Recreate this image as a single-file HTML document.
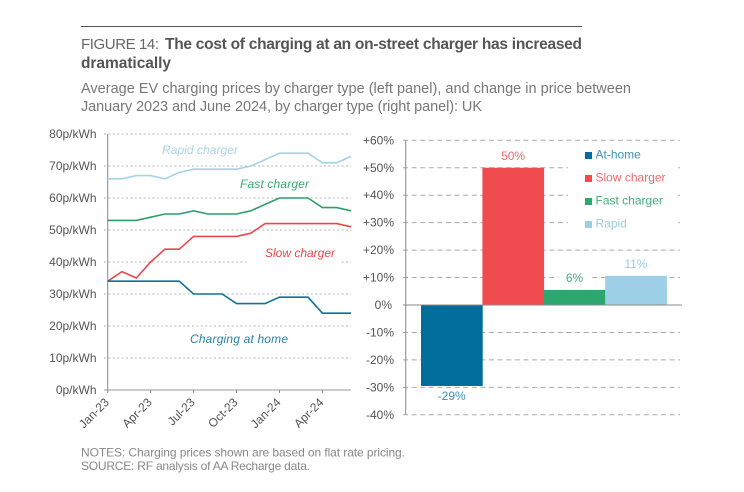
<!DOCTYPE html>
<html lang="en">
<head>
<meta charset="utf-8">
<title>The cost of charging at an on-street charger</title>
<style>
html,body{margin:0;padding:0;background:#fff;width:744px;height:492px;overflow:hidden}
svg{display:block;font-family:"Liberation Sans",sans-serif}
</style>
</head>
<body>
<svg id="fig" width="744" height="492" viewBox="0 0 744 492" xmlns="http://www.w3.org/2000/svg">
  <rect width="744" height="492" fill="#fff"/>
  <line x1="81" x2="582" y1="26.5" y2="26.5" stroke="#555" stroke-width="1"/>
  <text x="81" y="49" font-size="15" fill="#666" textLength="78" lengthAdjust="spacing">FIGURE 14:</text>
  <text x="165" y="49" font-size="15.5" font-weight="bold" fill="#555" textLength="417" lengthAdjust="spacing">The cost of charging at an on-street charger has increased</text>
  <text x="81" y="68" font-size="15.5" font-weight="bold" fill="#555" textLength="90" lengthAdjust="spacing">dramatically</text>
  <text x="81" y="93" font-size="14.5" fill="#777" textLength="550" lengthAdjust="spacing">Average EV charging prices by charger type (left panel), and change in price between</text>
  <text x="81" y="111" font-size="14.5" fill="#777" textLength="401" lengthAdjust="spacing">January 2023 and June 2024, by charger type (right panel): UK</text>

  <g id="left"></g>
  <g id="right"></g>

  <text x="81" y="456.5" font-size="12" fill="#888" textLength="324" lengthAdjust="spacing">NOTES: Charging prices shown are based on flat rate pricing.</text>
  <text x="81" y="470" font-size="12" fill="#888" textLength="229" lengthAdjust="spacing">SOURCE: RF analysis of AA Recharge data.</text>
</svg>
<script>
const months = ['Jan-23','Apr-23','Jul-23','Oct-23','Jan-24','Apr-24'];
const monthCount = 18;
const priceTicks = [0,10,20,30,40,50,60,70,80];
const rapidPrices = [66,66,67,67,66,68,69,69,69,69,70,72,74,74,74,71,71,73];
const fastPrices = [53,53,53,54,55,55,56,55,55,55,56,58,60,60,60,57,57,56];
const slowPrices = [34,37,35,40,44,44,48,48,48,48,49,52,52,52,52,52,52,51];
const homePrices = [34,34,34,34,34,34,30,30,30,27,27,27,29,29,29,24,24,24];
const changeCategories = ['At-home','Slow charger','Fast charger','Rapid'];
const changeValues = [-29.5,50,5.5,10.6];
const changeLabels = ['-29%','50%','6%','11%'];
const changeTicks = [-40,-30,-20,-10,0,10,20,30,40,50,60];

const NS = 'http://www.w3.org/2000/svg';
function mk(parent, tag, attrs, text){
  const el = document.createElementNS(NS, tag);
  for(const k in attrs){ el.setAttribute(k, attrs[k]); }
  if(text !== undefined){ el.textContent = text; }
  parent.appendChild(el);
  return el;
}
const left = document.getElementById('left');
const right = document.getElementById('right');

/* ---------- left panel ---------- */
const xMonth = i => 107.7 + i * (351 - 107.7) / (monthCount - 1);
const yPrice = v => 390 - v * 3.2;

priceTicks.forEach(v => {
  if(v > 0){
    const g = mk(left, 'line', {x1:104, x2:351, y1:yPrice(v), y2:yPrice(v), stroke:'#b5b5b5', 'stroke-width':1, 'stroke-dasharray':'2 2.4'});
    
    
  }
  const t = mk(left, 'text', {x:96.5, y:yPrice(v)+4, 'text-anchor':'end', 'font-size':12, fill:'#555'}, v + 'p/kWh');
  
  
});

const slowMask = mk(left, 'rect', {x:248, y:yPrice(40)-3, width:93, height:6, fill:'#fff'});



const yAxisL = mk(left, 'line', {x1:107.7, x2:107.7, y1:yPrice(80), y2:yPrice(0), stroke:'#888', 'stroke-width':1});


const xAxisL = mk(left, 'line', {x1:104, x2:351, y1:yPrice(0), y2:yPrice(0), stroke:'#999', 'stroke-width':1});



months.forEach((m, i) => {
  const x = xMonth(i * 3);
  const tick = mk(left, 'line', {x1:x, x2:x, y1:yPrice(0), y2:yPrice(0)+3, stroke:'#888', 'stroke-width':1});
  
  
  const t = mk(left, 'text', {x:x+2, y:yPrice(0)+13, 'text-anchor':'end', 'font-size':12, fill:'#555', transform:'rotate(-45 '+(x+2)+' '+(yPrice(0)+13)+')'}, m);
  
  
});

function linePath(values){
  return values.map((v, i) => xMonth(i).toFixed(2) + ',' + yPrice(v).toFixed(2)).join(' ');
}
const rapidLine = mk(left, 'polyline', {points:linePath(rapidPrices), fill:'none', stroke:'#a5d2e6', 'stroke-width':1.6});


const fastLine = mk(left, 'polyline', {points:linePath(fastPrices), fill:'none', stroke:'#2f9e6c', 'stroke-width':1.6});


const slowLine = mk(left, 'polyline', {points:linePath(slowPrices), fill:'none', stroke:'#e5484d', 'stroke-width':1.6});


const homeLine = mk(left, 'polyline', {points:linePath(homePrices), fill:'none', stroke:'#0f7396', 'stroke-width':1.6});



const rapidLabel = mk(left, 'text', {x:162, y:154, 'font-size':12, 'font-style':'italic', fill:'#acd3e6', textLength:76, lengthAdjust:'spacing'}, 'Rapid charger');


const fastLabel = mk(left, 'text', {x:240, y:188, 'font-size':12, 'font-style':'italic', fill:'#3aa874', textLength:69, lengthAdjust:'spacing'}, 'Fast charger');


const slowLabel = mk(left, 'text', {x:265, y:257, 'font-size':12, 'font-style':'italic', fill:'#e5484d', textLength:70, lengthAdjust:'spacing'}, 'Slow charger');


const homeLabel = mk(left, 'text', {x:190, y:343, 'font-size':12, 'font-style':'italic', fill:'#2a80a8', textLength:98, lengthAdjust:'spacing'}, 'Charging at home');



/* ---------- right panel ---------- */
const yChange = v => 305 - v * 2.745;
const barLeft = 421;
const barStep = 61.4;
const barColors = ['#006d9c','#f04b4f','#2ea66f','#9dcfe6'];
const labelColors = ['#3f8fb5','#ee6a6d','#45ab7c','#9ccbe2'];

changeTicks.forEach(v => {
  if(v !== 0){
    const g = mk(right, 'line', {x1:403, x2:680, y1:yChange(v), y2:yChange(v), stroke:'#aaa', 'stroke-width':1, 'stroke-dasharray':'5 3.6'});
    
    
  }
  const txt = v > 0 ? '+' + v + '%' : v + '%';
  const t = mk(right, 'text', {x:v === 0 ? 392 : 394, y:yChange(v)+4, 'text-anchor':'end', 'font-size':12, fill:'#555'}, txt);
  
  
});

const legendMask = mk(right, 'rect', {x:568, y:146, width:109, height:88, fill:'#fff'});



changeValues.forEach((v, i) => {
  const x = barLeft + i * barStep;
  const top = Math.min(yChange(0), yChange(v));
  const h = Math.abs(yChange(v) - yChange(0));
  const bar = mk(right, 'rect', {x:x, y:top, width:barStep + 0.3, height:h, fill:barColors[i]});
  
  
  const labelY = v < 0 ? yChange(v) + 14 : yChange(v) - 8;
  const mask = mk(right, 'rect', {x:x + barStep/2 - 16, y:labelY - 10, width:32, height:13, fill:'#fff'});
  
  
  const t = mk(right, 'text', {x:x + barStep/2, y:labelY, 'text-anchor':'middle', 'font-size':12, fill:labelColors[i]}, changeLabels[i]);
  
  
});

const yAxisR = mk(right, 'line', {x1:405.7, x2:405.7, y1:yChange(60), y2:yChange(-40), stroke:'#888', 'stroke-width':1});


const zeroLine = mk(right, 'line', {x1:403, x2:682, y1:yChange(0), y2:yChange(0), stroke:'#888', 'stroke-width':1});



changeCategories.forEach((c, i) => {
  const y = 154.5 + i * 23;
  const sw = mk(right, 'rect', {x:585, y:y - 2.5, width:7, height:7, fill:barColors[i]});
  
  
  const t = mk(right, 'text', {x:595.5, y:y + 4, 'font-size':12, fill:labelColors[i]}, c);
  
  
});
</script>
</body>
</html>
